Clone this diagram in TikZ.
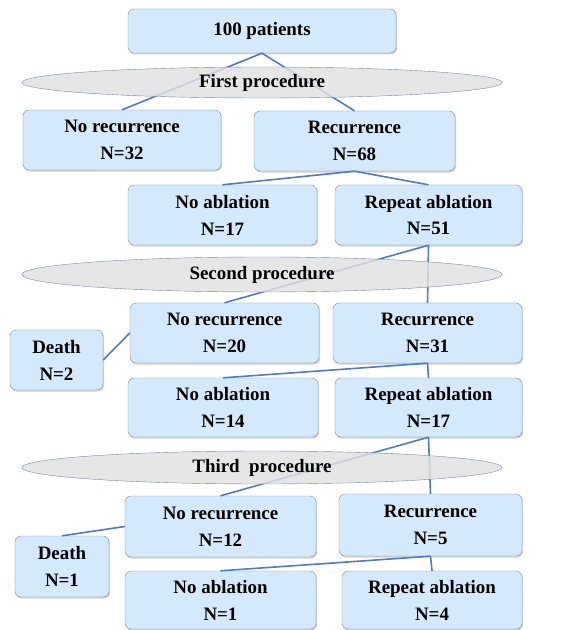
\documentclass[tikz,border=0pt]{standalone}
\usepackage{fontspec}
\setmainfont{Liberation Serif}
\usetikzlibrary{shapes.geometric,shadows}
\definecolor{boxfill}{RGB}{212,233,251}
\definecolor{boxline}{RGB}{118,138,172}
\definecolor{linkblue}{RGB}{82,122,192}
\definecolor{ovalfill}{RGB}{224,224,226}
\begin{document}
\begin{tikzpicture}[x=1bp, y=-1bp,
  font=\fontsize{19}{27}\selectfont\bfseries,
  box/.style={draw=boxline, fill=boxfill, rounded corners=6bp, inner sep=0pt,
    align=center, drop shadow={shadow xshift=1bp, shadow yshift=-1.5bp, opacity=0.35}},
  oval/.style={draw=boxline, fill=ovalfill, fill opacity=0.82, text opacity=1,
    ellipse, inner sep=0pt, minimum width=480bp},
  link/.style={linkblue, line width=1.6bp}]
  \useasboundingbox (0,0) rectangle (579,630);

  \node[box, minimum width=268bp, minimum height=44bp] (P) at (262, 31) {100 patients};
  \node[box, minimum width=198bp, minimum height=60bp] (NR1) at (122, 140) {No recurrence\\N=32};
  \node[box, minimum width=201bp, minimum height=60bp] (R1) at (354.5, 141) {Recurrence\\N=68};
  \node[box, minimum width=189bp, minimum height=60bp] (NA1) at (222.5, 215) {No ablation\\N=17};
  \node[box, minimum width=187bp, minimum height=60bp] (RA1) at (428.5, 215) {Repeat ablation\\N=51};
  \node[box, minimum width=189bp, minimum height=60bp] (NR2) at (224.5, 333) {No recurrence\\N=20};
  \node[box, minimum width=189bp, minimum height=60bp] (R2) at (427.5, 333) {Recurrence\\N=31};
  \node[box, minimum width=93bp, minimum height=60bp] (D2) at (56.5, 360) {Death\\N=2};
  \node[box, minimum width=190bp, minimum height=59bp] (NA2) at (223, 407.5) {No ablation\\N=14};
  \node[box, minimum width=187bp, minimum height=59bp] (RA2) at (428.5, 407.5) {Repeat ablation\\N=17};
  \node[box, minimum width=191bp, minimum height=61bp] (NR3) at (220.5, 526.5) {No recurrence\\N=12};
  \node[box, minimum width=183bp, minimum height=62bp] (R3) at (430.5, 525) {Recurrence\\N=5};
  \node[box, minimum width=94bp, minimum height=61bp] (D1) at (62, 566.5) {Death\\N=1};
  \node[box, minimum width=191bp, minimum height=58bp] (NA3) at (220.5, 600) {No ablation\\N=1};
  \node[box, minimum width=180bp, minimum height=58bp] (RA3) at (432, 600) {Repeat ablation\\N=4};

  \draw[link] (P.south) -- (NR1.north);
  \draw[link] (P.south) -- (R1.north);
  \draw[link] (R1.south) -- (NA1.north);
  \draw[link] (R1.south) -- (RA1.north);
  \draw[link] (RA1.south) -- (NR2.north);
  \draw[link] (RA1.south) -- (R2.north);
  \draw[link] (D2.east) -- (NR2.west);
  \draw[link] (R2.south) -- (NA2.north);
  \draw[link] (R2.south) -- (RA2.north);
  \draw[link] (RA2.south) -- (NR3.north);
  \draw[link] (RA2.south) -- (R3.north);
  \draw[link] (D1.north) -- (NR3.west);
  \draw[link] (R3.south) -- (NA3.north);
  \draw[link] (R3.south) -- (RA3.north);

  \node[oval, minimum height=31bp] (E1) at (262, 82.5) {First procedure};
  \node[oval, minimum height=35bp] (E2) at (262, 274.5) {Second procedure};
  \node[oval, minimum height=33bp] (E3) at (262, 467.5) {Third\ \ procedure};
\end{tikzpicture}
\end{document}
